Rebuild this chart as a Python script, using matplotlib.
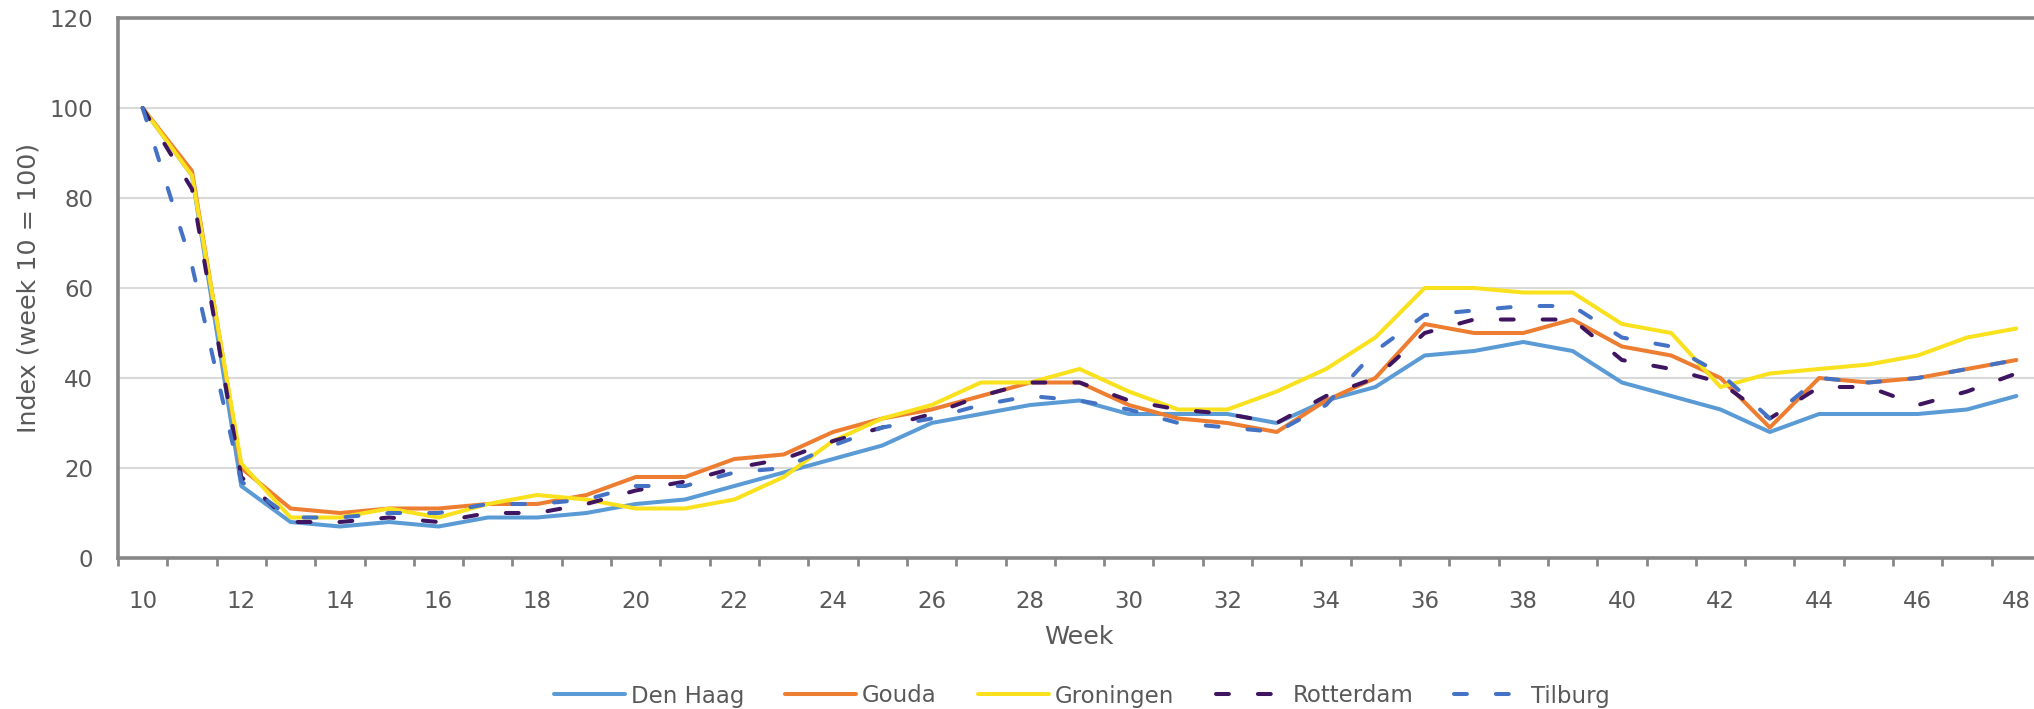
import matplotlib
matplotlib.use("Agg")
import matplotlib.pyplot as plt
import numpy as np

weeks = list(range(10, 49))

den_haag = [100, 85, 16, 8, 7, 8, 7, 9, 9, 10, 12, 13, 16, 19, 22, 25, 30, 32, 34, 35,
            32, 32, 32, 30, 35, 38, 45, 46, 48, 46, 39, 36, 33, 28, 32, 32, 32, 33, 36]
gouda = [100, 86, 20, 11, 10, 11, 11, 12, 12, 14, 18, 18, 22, 23, 28, 31, 33, 36, 39, 39,
         34, 31, 30, 28, 35, 40, 52, 50, 50, 53, 47, 45, 40, 29, 40, 39, 40, 42, 44]
groningen = [100, 85, 21, 9, 9, 11, 9, 12, 14, 13, 11, 11, 13, 18, 26, 31, 34, 39, 39, 42,
             37, 33, 33, 37, 42, 49, 60, 60, 59, 59, 52, 50, 38, 41, 42, 43, 45, 49, 51]
rotterdam = [100, 82, 18, 8, 8, 9, 8, 10, 10, 12, 15, 17, 20, 22, 26, 29, 32, 36, 39, 39,
             35, 33, 32, 30, 36, 40, 50, 53, 53, 53, 44, 42, 39, 31, 38, 38, 34, 37, 41]
tilburg = [100, 65, 17, 9, 9, 10, 10, 12, 12, 13, 16, 16, 19, 20, 25, 29, 31, 34, 36, 35,
           33, 30, 29, 28, 34, 46, 54, 55, 56, 56, 49, 47, 41, 31, 40, 39, 40, 42, 44]

names = ["Den Haag", "Gouda", "Groningen", "Rotterdam", "Tilburg"]
colors = ["#5B9BD5", "#ED7D31", "#FAE11E", "#3F1461", "#4472C4"]

txt = "#595959"
axis_gray = "#878787"
fs = 16.5        # tick labels and legend
fs_title = 18.3  # axis titles

plt.rcParams["font.family"] = "DejaVu Sans"

fig = plt.figure(figsize=(20.34, 7.09), dpi=100)
ax = fig.add_axes([118 / 2034, 151 / 709, 1923 / 2034, 540 / 709])

series = [den_haag, gouda, groningen, rotterdam, tilburg]
for i, (name, vals, c) in enumerate(zip(names, series, colors)):
    if name in ("Rotterdam", "Tilburg"):
        ax.plot(weeks, vals, color=c, lw=2.9, label=name, zorder=3 + i,
                dashes=(3.2, 7.2), dash_capstyle="round", dash_joinstyle="round")
    else:
        ax.plot(weeks, vals, color=c, lw=2.9, label=name, zorder=3 + i,
                solid_joinstyle="round", solid_capstyle="round")

ax.set_xlim(9.5, 48.5)
ax.set_ylim(0, 120)
ax.set_yticks(np.arange(0, 121, 20))
ax.set_xticks(np.arange(10, 49, 2))
ax.set_xticks(np.arange(9.5, 48.6, 1), minor=True)
ax.grid(axis="y", color="#D9D9D9", lw=1.5, zorder=0)
ax.set_axisbelow(True)

ax.tick_params(axis="x", which="major", length=0, pad=23, labelsize=fs, labelcolor=txt)
ax.tick_params(axis="x", which="minor", length=6, width=2, color=axis_gray, direction="out")
ax.tick_params(axis="y", length=0, pad=18, labelsize=fs, labelcolor=txt)

for s in ax.spines.values():
    s.set_color(axis_gray)
    s.set_linewidth(2.6)

fig.text(29 / 2034, 1 - 288 / 709, "Index (week 10 = 100)", rotation=90,
         ha="center", va="center", fontsize=fs_title, color=txt)
fig.text(1079 / 2034, 1 - 637 / 709, "Week", ha="center", va="center",
         fontsize=fs_title, color=txt)

fig.legend(loc="center", bbox_to_anchor=(1082 / 2034, 1 - 696 / 709), ncol=5,
           frameon=False, fontsize=fs, labelcolor=txt, handlelength=3.1,
           handletextpad=0.25, columnspacing=1.8)

fig.savefig("out.png", dpi=100)
